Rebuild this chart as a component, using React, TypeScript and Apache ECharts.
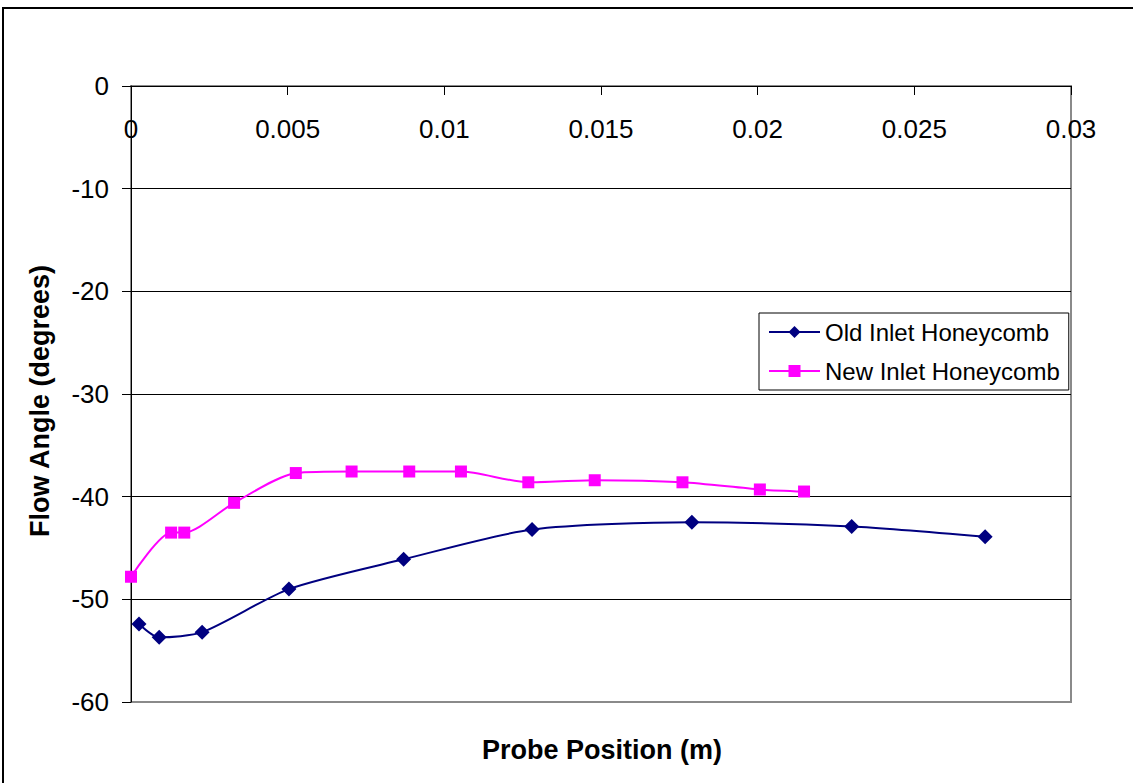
import React, { useEffect, useRef } from "react";
import * as echarts from "echarts";

const oldX = [0.000255, 0.0009, 0.00227, 0.00504, 0.0087, 0.0128, 0.0179, 0.023, 0.02726];
const oldY = [-52.4, -53.7, -53.2, -49.0, -46.1, -43.2, -42.5, -42.9, -43.9];
const newX = [0, 0.00128, 0.0017, 0.00329, 0.00526, 0.00704, 0.00888, 0.01053, 0.01268, 0.0148, 0.0176, 0.02007, 0.02148];
const newY = [-47.8, -43.5, -43.5, -40.6, -37.7, -37.55, -37.55, -37.55, -38.6, -38.4, -38.6, -39.3, -39.5];
const seriesNames = ["Old Inlet Honeycomb", "New Inlet Honeycomb"];
const xTitle = "Probe Position (m)";
const yTitle = "Flow Angle (degrees)";

const FONT = "'Liberation Sans', Arial, sans-serif";

export default function App() {
  const ref = useRef<HTMLDivElement>(null);
  useEffect(() => {
    if (!ref.current) return;
    const chart = echarts.init(ref.current, undefined, { renderer: "svg" });
    const pairs = (xs: number[], ys: number[]) => xs.map((x, i) => [x, ys[i]]);
    chart.setOption({
      animation: false,
      backgroundColor: "#fff",
      textStyle: { fontFamily: FONT },
      grid: {
        left: 131,
        top: 86,
        right: 62,
        bottom: 81,
        show: true,
        borderColor: "#8a8a8a",
        borderWidth: 2,
        containLabel: false,
      },
      xAxis: {
        type: "value",
        min: 0,
        max: 0.03,
        interval: 0.005,
        position: "top",
        axisLine: { show: true, onZero: false, lineStyle: { color: "#000", width: 1 } },
        axisTick: { show: true, inside: true, length: 9, lineStyle: { color: "#000" } },
        axisLabel: { inside: true, margin: 30, fontSize: 26, color: "#000", fontFamily: FONT },
        splitLine: { show: false },
      },
      yAxis: {
        type: "value",
        min: -60,
        max: 0,
        interval: 10,
        axisLine: { show: true, onZero: false, lineStyle: { color: "#000", width: 1 } },
        axisTick: { show: true, length: 9, lineStyle: { color: "#000" } },
        axisLabel: { margin: 22, fontSize: 26, color: "#000", fontFamily: FONT },
        splitLine: {
          show: true,
          lineStyle: { color: ["#8a8a8a", "#000", "#000", "#000", "#000", "#000", "#000"], width: 1 },
        },
      },
      legend: {
        orient: "vertical",
        left: 759,
        top: 313,
        padding: [6, 9, 6, 9],
        itemGap: 13,
        itemWidth: 51,
        itemHeight: 15,
        borderColor: "#000",
        borderWidth: 1,
        backgroundColor: "#fff",
        textStyle: { fontSize: 24, lineHeight: 26, color: "#000", fontFamily: FONT },
        data: seriesNames,
      },
      series: [
        {
          name: seriesNames[0],
          type: "line",
          data: pairs(oldX, oldY),
          smooth: 0.25,
          symbol: "diamond",
          symbolSize: 15,
          color: "#000080",
          lineStyle: { color: "#000080", width: 2 },
          itemStyle: { color: "#000080" },
          z: 3,
        },
        {
          name: seriesNames[1],
          type: "line",
          data: pairs(newX, newY),
          smooth: 0.25,
          symbol: "rect",
          symbolSize: 12,
          color: "#ff00ff",
          lineStyle: { color: "#ff00ff", width: 2 },
          itemStyle: { color: "#ff00ff" },
          z: 4,
        },
      ],
      graphic: [
        {
          type: "rect",
          shape: { x: 3, y: 8, width: 1150, height: 800 },
          style: { fill: "none", stroke: "#000", lineWidth: 2 },
          silent: true,
        },
        {
          type: "text",
          x: 602,
          y: 750,
          style: {
            text: xTitle,
            fontSize: 27,
            fontWeight: "bold",
            fontFamily: FONT,
            fill: "#000",
            textAlign: "center",
            textVerticalAlign: "middle",
          },
        },
        {
          type: "text",
          x: 40,
          y: 401,
          rotation: Math.PI / 2,
          style: {
            text: yTitle,
            fontSize: 27,
            fontWeight: "bold",
            fontFamily: FONT,
            fill: "#000",
            textAlign: "center",
            textVerticalAlign: "middle",
          },
        },
      ],
    });
    return () => chart.dispose();
  }, []);
  return (
    <div
      ref={ref}
      style={{ position: "fixed", left: 0, top: 0, width: 1133, height: 783 }}
    />
  );
}
